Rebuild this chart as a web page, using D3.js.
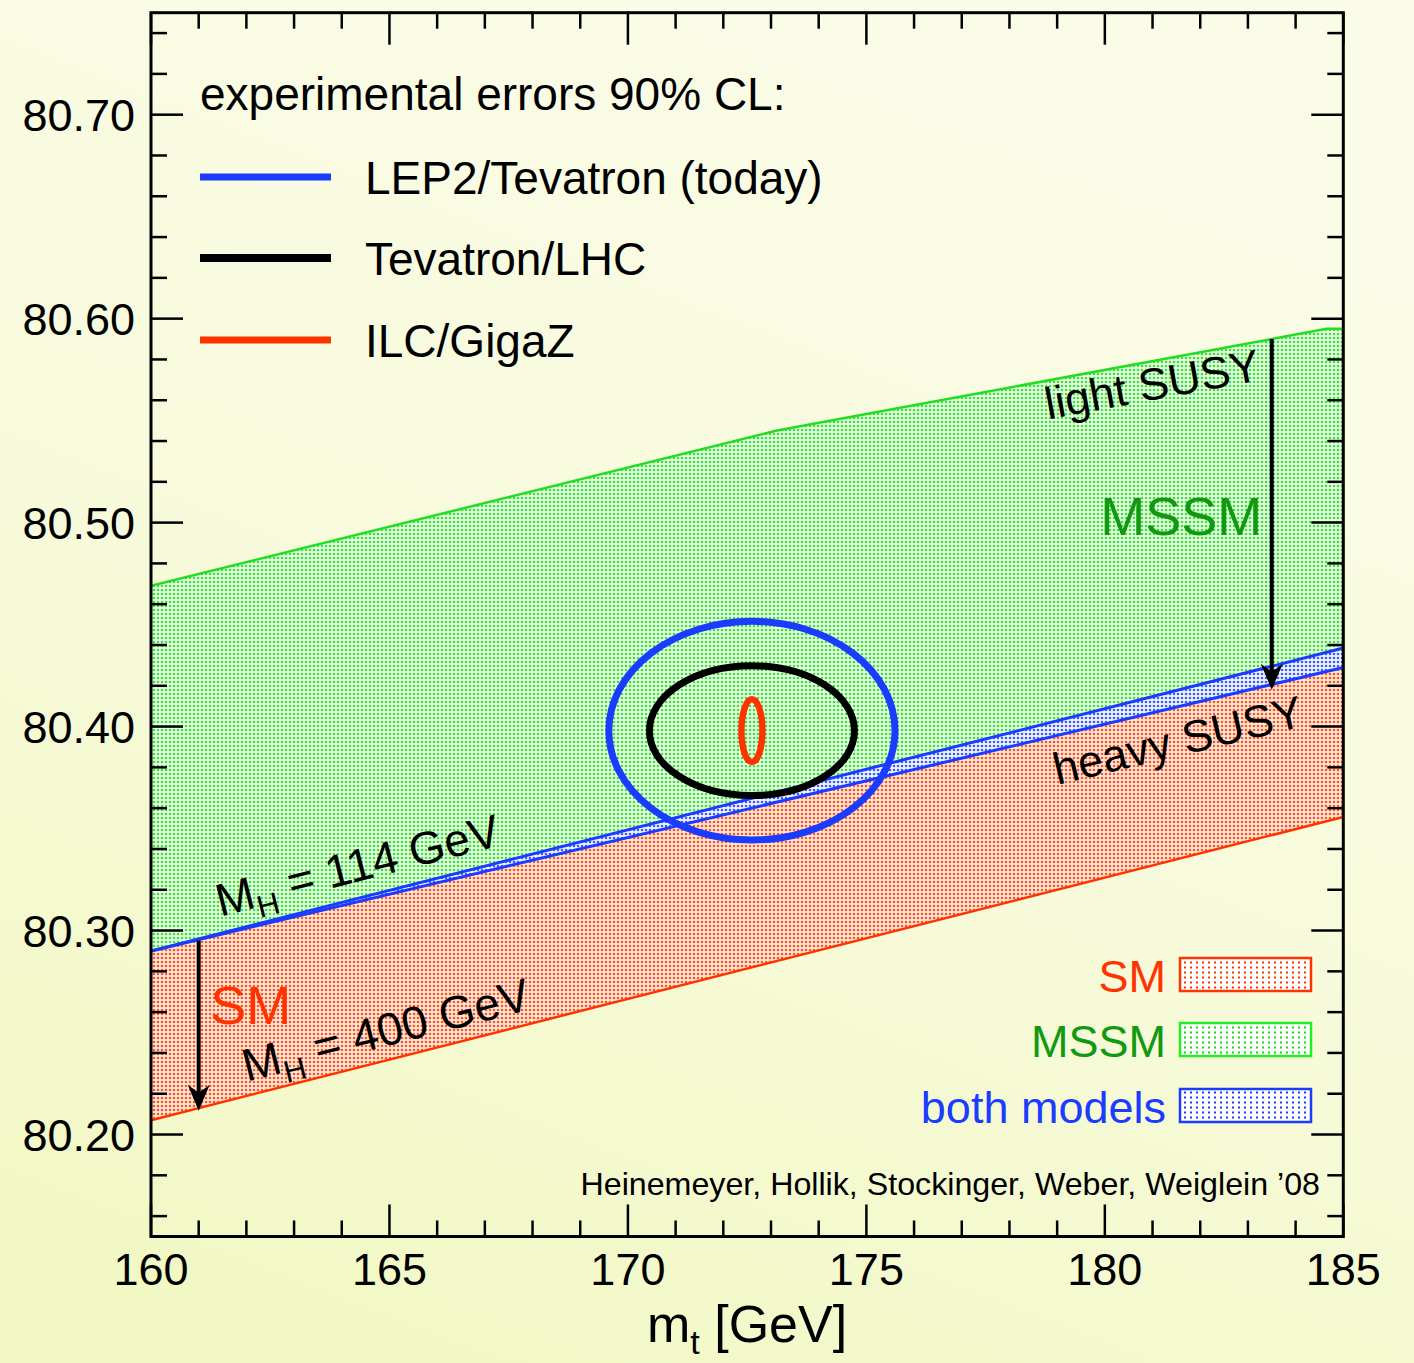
<!DOCTYPE html>
<html><head><meta charset="utf-8">
<script src="https://cdn.jsdelivr.net/npm/d3@7"></script>
<style>
html,body{margin:0;padding:0;background:#f6f9d6;}
svg{display:block;}
text{font-family:"Liberation Sans",Arial,Helvetica,sans-serif;}
</style>
</head><body><div id="chart"></div>
<script>
// ---------- data ----------
const xDomain = [160, 185];
const yDomain = [80.15, 80.75];
const xTickLabels = [160, 165, 170, 175, 180, 185];
const yTickLabels = [80.20, 80.30, 80.40, 80.50, 80.60, 80.70];

// band boundaries [m_t, M_W]
const mssmUpper = [[160, 80.469], [173.1, 80.545], [184.65, 80.595], [185, 80.595]]; // light SUSY
const mssmLower = [[160, 80.290], [185, 80.429]];                                      // heavy SUSY
const smUpper   = [[160, 80.290], [185, 80.4385]];                                     // M_H = 114 GeV
const smLower   = [[160, 80.207], [185, 80.3557]];                                     // M_H = 400 GeV

// experimental error ellipses (90% CL)
const ellipseCenter = [172.6, 80.398];
const ellipseNames  = ["LEP2/Tevatron (today)", "Tevatron/LHC", "ILC/GigaZ"];
const ellipseRx     = [3.0, 2.15, 0.22];
const ellipseRy     = [0.0536, 0.0318, 0.0154];
const ellipseColors = ["#1a3cff", "#000000", "#ff3300"];
const ellipseWidths = [7, 7, 6.5];

// arrows
const arrowSUSY = [[183.5, 80.590], [183.5, 80.418]];
const arrowSM   = [[161.0, 80.295], [161.0, 80.2117]];

const modelNames  = ["SM", "MSSM", "both models"];
const modelColors = ["#ff3300", "#119911", "#1a3cff"];
const modelEdge   = ["#ff3300", "#22ee22", "#1a3cff"];
const modelPattern= ["patRedL", "patGreenL", "patBlueL"];

// ---------- layout ----------
const W = 1414, H = 1363;
const pLeft = 151, pRight = 1343.3, pTop = 12.7, pBottom = 1236.5;

const svg = d3.select("#chart").append("svg").attr("width", W).attr("height", H);
const defs = svg.append("defs");

const bg = defs.append("linearGradient").attr("id", "bg")
  .attr("x1", 0.6).attr("y1", 0).attr("x2", 0.2).attr("y2", 1);
bg.append("stop").attr("offset", 0).attr("stop-color", "#fbfce8");
bg.append("stop").attr("offset", 0.55).attr("stop-color", "#f7fad9");
bg.append("stop").attr("offset", 1).attr("stop-color", "#f1f8c3");
svg.append("rect").attr("width", W).attr("height", H).attr("fill", "url(#bg)");

function dotPattern(id, bgc, dot, size, r) {
  const p = defs.append("pattern").attr("id", id).attr("patternUnits", "userSpaceOnUse")
    .attr("width", size).attr("height", size);
  p.append("rect").attr("width", size).attr("height", size).attr("fill", bgc);
  p.append("circle").attr("cx", size / 2).attr("cy", size / 2).attr("r", r).attr("fill", dot);
}
dotPattern("patGreen", "#effdea", "#30e830", 4, 1.3);
dotPattern("patRed", "#ffe9dc", "#ff5420", 4, 1.3);
dotPattern("patBlue", "#f4f6ff", "#3a5cff", 4, 1.3);

function squarePattern(id, dot) {
  const p = defs.append("pattern").attr("id", id).attr("patternUnits", "userSpaceOnUse")
    .attr("width", 6).attr("height", 5);
  p.append("rect").attr("width", 6).attr("height", 5).attr("fill", "#ffffff");
  p.append("rect").attr("x", 2).attr("y", 1.5).attr("width", 2).attr("height", 2).attr("fill", dot);
}
squarePattern("patRedL", "#ff3300");
squarePattern("patGreenL", "#11dd11");
squarePattern("patBlueL", "#1a3cff");

defs.append("clipPath").attr("id", "plotClip").append("rect")
  .attr("x", pLeft).attr("y", pTop).attr("width", pRight - pLeft).attr("height", pBottom - pTop);

const x = d3.scaleLinear().domain(xDomain).range([pLeft, pRight]);
const y = d3.scaleLinear().domain(yDomain).range([pBottom, pTop]);

const line = d3.line().x(d => x(d[0])).y(d => y(d[1]));
const poly = (a, b) => line(a.concat(b.slice().reverse())) + "Z";

const plot = svg.append("g").attr("clip-path", "url(#plotClip)");

// bands
plot.append("path").attr("d", poly(mssmUpper, mssmLower)).attr("fill", "url(#patGreen)");
plot.append("path").attr("d", poly(smLower, mssmLower)).attr("fill", "url(#patRed)");
plot.append("path").attr("d", poly(mssmLower, smUpper)).attr("fill", "url(#patBlue)");

plot.append("path").attr("d", line(mssmUpper)).attr("fill", "none").attr("stroke", "#22dd22").attr("stroke-width", 2.5);
plot.append("path").attr("d", line(smLower)).attr("fill", "none").attr("stroke", "#ff3300").attr("stroke-width", 2.5);
plot.append("path").attr("d", line(mssmLower)).attr("fill", "none").attr("stroke", "#1a3cff").attr("stroke-width", 3);
plot.append("path").attr("d", line(smUpper)).attr("fill", "none").attr("stroke", "#1a3cff").attr("stroke-width", 3);

// ellipses
ellipseNames.forEach((n, i) => {
  plot.append("ellipse")
    .attr("cx", x(ellipseCenter[0])).attr("cy", y(ellipseCenter[1]))
    .attr("rx", x(ellipseCenter[0] + ellipseRx[i]) - x(ellipseCenter[0]))
    .attr("ry", y(ellipseCenter[1]) - y(ellipseCenter[1] + ellipseRy[i]))
    .attr("fill", "none").attr("stroke", ellipseColors[i]).attr("stroke-width", ellipseWidths[i]);
});

// arrows
function arrow(pts) {
  const x0 = x(pts[0][0]), y0 = y(pts[0][1]), y1 = y(pts[1][1]);
  plot.append("line").attr("x1", x0).attr("x2", x0).attr("y1", y0).attr("y2", y1 - 12)
    .attr("stroke", "#000").attr("stroke-width", 4);
  plot.append("path")
    .attr("d", `M${x0},${y1} L${x0 - 11},${y1 - 26} L${x0},${y1 - 18} L${x0 + 11},${y1 - 26} Z`)
    .attr("fill", "#000");
}
arrow(arrowSUSY);
arrow(arrowSM);

// rotated labels
function slopeAngle(a, b) {
  return Math.atan2(y(b[1]) - y(a[1]), x(b[0]) - x(a[0])) * 180 / Math.PI;
}
function mhLabel(pos, ang, value) {
  const t = plot.append("text")
    .attr("transform", `translate(${x(pos[0])},${y(pos[1])}) rotate(${ang})`)
    .attr("font-size", 46).attr("fill", "#000");
  t.append("tspan").text("M");
  t.append("tspan").attr("font-size", 31).attr("dy", 11).text("H");
  t.append("tspan").attr("dy", -11).text(" = " + value + " GeV");
}
mhLabel([161.45, 80.3068], slopeAngle(smUpper[0], smUpper[1]), 114);
mhLabel([162.01, 80.2259], slopeAngle(smLower[0], smLower[1]), 400);

plot.append("text")
  .attr("transform", `translate(${x(178.81)},${y(80.5506)}) rotate(${slopeAngle(mssmUpper[1], mssmUpper[2])})`)
  .attr("font-size", 45).text("light SUSY");
plot.append("text")
  .attr("transform", `translate(${x(179.0)},${y(80.3714)}) rotate(${slopeAngle(mssmLower[0], mssmLower[1])})`)
  .attr("font-size", 45).text("heavy SUSY");

plot.append("text").attr("x", x(183.3)).attr("y", y(80.4938)).attr("text-anchor", "end")
  .attr("font-size", 54).attr("fill", "#119911").text("MSSM");
plot.append("text").attr("x", x(161.24)).attr("y", y(80.2544))
  .attr("font-size", 54).attr("fill", "#ff3300").text("SM");

// ---------- axes / frame ----------
const axes = svg.append("g").attr("stroke", "#000").attr("stroke-width", 2.5);
const xMinor = x.ticks(25), yMinor = y.ticks(30);
const isMajorX = v => xTickLabels.some(t => Math.abs(t - v) < 1e-6);
const isMajorY = v => yTickLabels.some(t => Math.abs(t - v) < 1e-6);
xMinor.forEach(v => {
  const L = isMajorX(v) ? 32 : 16;
  axes.append("line").attr("x1", x(v)).attr("x2", x(v)).attr("y1", pBottom).attr("y2", pBottom - L);
  axes.append("line").attr("x1", x(v)).attr("x2", x(v)).attr("y1", pTop).attr("y2", pTop + L);
});
yMinor.forEach(v => {
  const L = isMajorY(v) ? 32 : 16;
  axes.append("line").attr("y1", y(v)).attr("y2", y(v)).attr("x1", pLeft).attr("x2", pLeft + L);
  axes.append("line").attr("y1", y(v)).attr("y2", y(v)).attr("x1", pRight).attr("x2", pRight - L);
});
svg.append("rect").attr("x", pLeft).attr("y", pTop).attr("width", pRight - pLeft).attr("height", pBottom - pTop)
  .attr("fill", "none").attr("stroke", "#000").attr("stroke-width", 3);

svg.append("g").selectAll("text").data(xTickLabels).join("text")
  .attr("x", d => x(d)).attr("y", 1285).attr("text-anchor", "middle")
  .attr("font-size", 45).text(d => d);
svg.append("g").selectAll("text").data(yTickLabels).join("text")
  .attr("x", 135).attr("y", d => y(d) + 16).attr("text-anchor", "end")
  .attr("font-size", 45).text(d => d.toFixed(2));

const xt = svg.append("text").attr("x", 647).attr("y", 1342).attr("font-size", 52);
xt.append("tspan").text("m");
xt.append("tspan").attr("font-size", 34).attr("dy", 12).text("t");
xt.append("tspan").attr("dy", -12).text(" [GeV]");

// ---------- legends ----------
svg.append("text").attr("x", 200).attr("y", 110).attr("font-size", 46).text("experimental errors 90% CL:");
const legY = [177, 258, 340];
ellipseNames.forEach((n, i) => {
  svg.append("line").attr("x1", 200).attr("x2", 331).attr("y1", legY[i]).attr("y2", legY[i])
    .attr("stroke", ellipseColors[i]).attr("stroke-width", i === 1 ? 8 : 7);
  svg.append("text").attr("x", 365).attr("y", legY[i] + 17).attr("font-size", 46).text(n);
});

const boxY = [958, 1023, 1089];
modelNames.forEach((n, i) => {
  svg.append("rect").attr("x", 1180).attr("y", boxY[i]).attr("width", 131).attr("height", 33)
    .attr("fill", `url(#${modelPattern[i]})`).attr("stroke", modelEdge[i]).attr("stroke-width", 2.5);
  svg.append("text").attr("x", 1166).attr("y", boxY[i] + 34).attr("text-anchor", "end")
    .attr("font-size", 45).attr("fill", modelColors[i]).text(n);
});

svg.append("text").attr("x", 1320).attr("y", 1195).attr("text-anchor", "end")
  .attr("font-size", 32.2).text("Heinemeyer, Hollik, Stockinger, Weber, Weiglein ’08");
</script>
</body></html>
